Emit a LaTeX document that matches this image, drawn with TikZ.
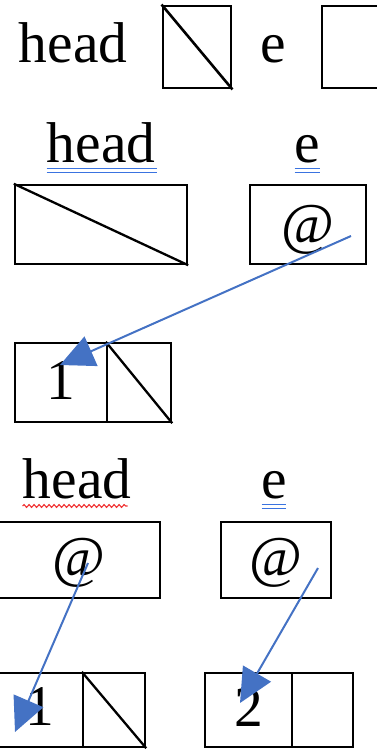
\documentclass[tikz,border=0pt]{standalone}
\usepackage{fontspec}
\setmainfont{Liberation Serif}
\usetikzlibrary{arrows.meta,decorations.pathmorphing}
\definecolor{ptrblue}{HTML}{4472C4}
\definecolor{lineblue}{HTML}{3A73E0}
\definecolor{wavyred}{HTML}{F03030}
\begin{document}
\begin{tikzpicture}[x=1pt,y=-1pt,
  txt/.style={inner sep=0pt,font=\fontsize{57.5}{60}\selectfont},
  cell/.style={draw,line width=2.4pt,inner sep=0pt},
  topcell/.style={draw,line width=2.9pt,inner sep=0pt},
  slash/.style={line width=2.3pt},
  ptr/.style={draw=ptrblue,line width=2pt,-{Triangle[length=34pt,width=32pt]}},
  dbl/.style={lineblue,line width=1pt},
  wavy/.style={wavyred,line width=1.1pt,decorate,
    decoration={snake,amplitude=1.4pt,segment length=5pt}}]
\useasboundingbox (0,0) rectangle (377,749);
\clip (0,0) rectangle (377,749);

% ---- declaration: head is null, e is empty
\node[txt,anchor=base] (h0) at (73,63) {head};
\node[topcell,minimum width=68,minimum height=82] (h0box) at (197,47) {};
\draw[slash,line width=2.6pt] (h0box.north west) -- (h0box.south east);
\node[txt,anchor=base] (e0) at (273.5,63) {e};
\node[topcell,minimum width=80,minimum height=82] (e0box) at (362,47) {};

% ---- e points at the first new node
\node[txt,anchor=base] (h1) at (101,162) {head};
\draw[dbl] (h1.base west) ++(0,6.5) coordinate (h1u) -- ++(110,0);
\draw[dbl] (h1u) ++(0,3.5) -- ++(110,0);
\node[cell,minimum width=172,minimum height=79] (h1box) at (101,224.5) {};
\draw[slash] (h1box.north west) -- (h1box.south east);

\node[txt,anchor=base] (e1) at (307.5,162) {e};
\draw[dbl] (e1.base west) ++(0,6.5) coordinate (e1u) -- ++(25,0);
\draw[dbl] (e1u) ++(0,3.5) -- ++(25,0);
\node[cell,minimum width=116,minimum height=79] (e1box) at (308,224.5) {};
\node[txt] (e1at) at (308,230) {@};

\node[cell,minimum width=92,minimum height=79] (n1a) at (61,382.5) {};
\node[cell,minimum width=64,minimum height=79] (n1b) at (139,382.5) {};
\draw[slash] (n1b.north west) -- (n1b.south east);
\node[txt] (n1v) at (61,380.5) {1};

\coordinate (p1s) at (351,236);
\coordinate (p1t) at (60,365);
\draw[ptr] (p1s) -- (p1t);

% ---- head holds the first node, e points at the second one
\node[txt,anchor=base] (h2) at (77,498) {head};
\draw[wavy] (h2.base west) ++(0,8) -- ++(105,0);
\node[cell,minimum width=163,minimum height=76] (h2box) at (78.5,560) {};
\node[txt] (h2at) at (78.5,562.5) {@};

\node[txt,anchor=base] (e2) at (274.5,498) {e};
\draw[dbl] (e2.base west) ++(0,6.5) coordinate (e2u) -- ++(24,0);
\draw[dbl] (e2u) ++(0,3.5) -- ++(24,0);
\node[cell,minimum width=110,minimum height=76] (e2box) at (276,560) {};
\node[txt] (e2at) at (275.5,562.5) {@};

\node[cell,minimum width=86,minimum height=74] (n2a) at (40,710) {};
\node[cell,minimum width=62,minimum height=74] (n2b) at (114,710) {};
\draw[slash] (n2b.north west) -- (n2b.south east);
\node[txt] (n2v) at (40,707) {1};

\node[cell,minimum width=87,minimum height=74] (n3a) at (248.5,710) {};
\node[cell,minimum width=61,minimum height=74] (n3b) at (322.5,710) {};
\node[txt] (n3v) at (248.5,707) {2};

\coordinate (p2s) at (88,563);
\coordinate (p2t) at (15,732);
\draw[ptr] (p2s) -- (p2t);
\coordinate (p3s) at (318,568);
\coordinate (p3t) at (240,703);
\draw[ptr] (p3s) -- (p3t);
\end{tikzpicture}
\end{document}
